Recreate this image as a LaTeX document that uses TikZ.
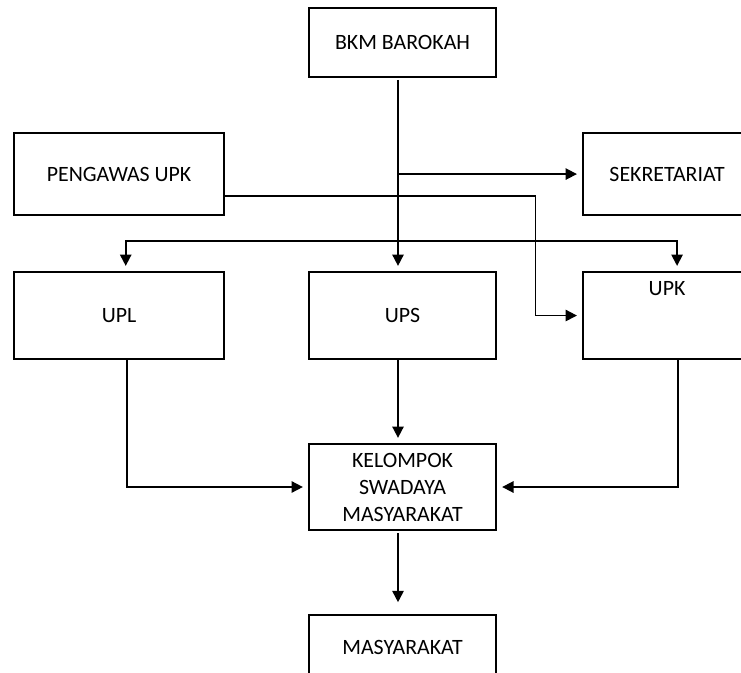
\documentclass[tikz,border=0pt]{standalone}
\usepackage{fontspec}
\setmainfont{Carlito}
\usepackage{tikz}
\usetikzlibrary{shapes.geometric, arrows.meta}
\tikzstyle{orgbox} = [rectangle, minimum width=140.25pt, minimum height=65.25pt, text centered, align=center, draw=black, line width=1.2pt, font=\fontsize{16.4}{20.25}\selectfont]
\tikzstyle{arrow} = [line width=1.3pt, -{Triangle[length=8.5pt,width=8.5pt]}, shorten >=4pt]

\begin{document}
\begin{tikzpicture}[node distance=2cm]
		\useasboundingbox (0,0) rectangle (555.75pt,-504.75pt);
		\clip (0,0) rectangle (555.75pt,-504.75pt);
		\node (bkm) [orgbox, minimum height=51.75pt] at (301.9pt,-31.9pt) {BKM BAROKAH};
		\node (ups) [orgbox, node distance=204.75pt, below of=bkm] {UPS};
		\node (upl) [orgbox, node distance=212.6pt, left of=ups, minimum width=157.5pt] {UPL};
		\node (upk) [orgbox, node distance=198.4pt, right of=ups, minimum width=126pt, text depth=40pt] {UPK};
		\node (pengawas) [orgbox, node distance=106.1pt, above of=upl, minimum width=157.5pt, minimum height=61.5pt] {PENGAWAS UPK};
		\node (sekretariat) [orgbox, node distance=106.1pt, above of=upk, minimum width=126pt, minimum height=61.5pt] {SEKRETARIAT};
		\node (ksm) [orgbox, node distance=128.6pt, below of=ups, minimum height=64.5pt] {KELOMPOK\\SWADAYA\\MASYARAKAT};
		\node (masyarakat) [orgbox, node distance=120pt, below of=ksm, minimum height=48pt] {MASYARAKAT};
		\coordinate (trunk) at ([xshift=-3.4pt]bkm.south);
		\coordinate (split) at ([xshift=-3.4pt, yshift=22.5pt]ups.north);
		\draw [arrow] ([yshift=-1.5pt]trunk) -- ([xshift=-3.4pt]ups.north);
		\draw [arrow] (trunk |- sekretariat) -- (sekretariat);
		\draw [arrow] (split) -| ([xshift=5pt]upl.north);
		\draw [arrow] (split) -| ([xshift=7.5pt]upk.north);
		\draw [arrow] ([yshift=-16.5pt]pengawas.east) -| ([xshift=-35pt]upk.west) -- (upk.west);
		\draw [arrow] ([xshift=-3.4pt]ups.south) -- ([xshift=-3.4pt]ksm.north);
		\draw [arrow] ([xshift=6pt]upl.south) |- (ksm);
		\draw [arrow] ([xshift=8pt]upk.south) |- (ksm);
		\draw [arrow, shorten >=9pt] ([xshift=-3.4pt, yshift=-2pt]ksm.south) -- ([xshift=-3.4pt]masyarakat.north);
		\end{tikzpicture}
\end{document}
